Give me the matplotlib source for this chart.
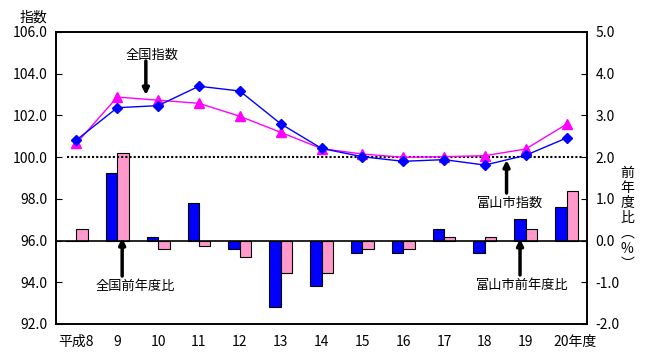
import matplotlib
matplotlib.use("Agg")
import matplotlib.pyplot as plt
import matplotlib.transforms as mtransforms

plt.rcParams['font.family'] = ['Noto Sans CJK JP', 'DejaVu Sans']

years = ["平成8", "9", "10", "11", "12", "13", "14", "15", "16", "17", "18", "19", "20年度"]
toyama_index = [100.82, 102.37, 102.47, 103.40, 103.17, 101.60, 100.42,
                100.02, 99.80, 99.88, 99.62, 100.09, 100.92]
national_index = [100.66, 102.88, 102.73, 102.58, 101.96, 101.19, 100.41,
                  100.15, 99.99, 100.02, 100.07, 100.39, 101.58]
toyama_yoy = [0.0, 1.61, 0.08, 0.89, -0.21, -1.60, -1.10,
              -0.30, -0.30, 0.27, -0.30, 0.51, 0.80]
national_yoy = [0.27, 2.10, -0.21, -0.12, -0.40, -0.78, -0.78,
                -0.21, -0.21, 0.08, 0.08, 0.27, 1.18]

fig = plt.figure(figsize=(6.48, 3.64), dpi=100)
ax = fig.add_axes([0.0864, 0.1099, 0.8195, 0.8022])
ax2 = ax.twinx()
ax.set_zorder(ax2.get_zorder() + 1)
ax.patch.set_visible(False)

x = list(range(len(years)))
w = 0.28

# bars on the right axis (year-over-year %)
ax2.bar([i - w / 2 for i in x], toyama_yoy, w, color="#0000FF", edgecolor="black", linewidth=0.8)
ax2.bar([i + w / 2 for i in x], national_yoy, w, color="#FF99CC", edgecolor="black", linewidth=0.8)
ax2.axhline(0, color="black", lw=1.2)
ax2.set_ylim(-2, 5)
ax2.set_yticks([-2, -1, 0, 1, 2, 3, 4, 5])
ax2.set_yticklabels(["%.1f" % v for v in [-2, -1, 0, 1, 2, 3, 4, 5]])

# index lines on the left axis
ax.plot(x, toyama_index, color="#0000FF", lw=1, marker="D", markersize=5.5, zorder=4)
ax.plot(x, national_index, color="#FF00FF", lw=1, marker="^", markersize=7, zorder=3)
ax.axhline(100, xmin=0.02, xmax=0.99, color="black", ls=(0, (1, 1)), lw=1.5, zorder=2)
ax.set_ylim(92, 106)
ax.set_yticks([92, 94, 96, 98, 100, 102, 104, 106])
ax.set_yticklabels(["%.1f" % v for v in [92, 94, 96, 98, 100, 102, 104, 106]])
ax.set_xlim(-0.5, len(years) - 0.5)
ax.set_xticks(x)
ax.set_xticklabels(years)

for a in (ax, ax2):
    a.tick_params(axis="y", direction="in", length=4, labelsize=10, pad=6)
    for s in a.spines.values():
        s.set_linewidth(1.2)
ax.tick_params(axis="x", length=0, labelsize=10, pad=8)
lbls = ax.get_xticklabels()
lbls[-1].set_transform(lbls[-1].get_transform() +
                       mtransforms.ScaledTranslation(8 / 100, 0, fig.dpi_scale_trans))

fig.text(0.051, 0.953, "指数", fontsize=10, ha="center", va="center")
fig.text(0.968, 0.40, "前\n年\n度\n比\n︵\n%\n︶", fontsize=10, ha="center", va="center",
         linespacing=1.1)

arrow = dict(arrowstyle="-|>", lw=2.5, color="black", mutation_scale=9, shrinkA=0, shrinkB=0)
ax.annotate("", xy=(1.70, 102.98), xytext=(1.70, 104.61), arrowprops=arrow)
ax.text(1.85, 104.9, "全国指数", fontsize=9.5, ha="center", va="center")
ax.annotate("", xy=(1.12, 96.12), xytext=(1.12, 94.30), arrowprops=arrow)
ax.text(1.43, 93.82, "全国前年度比", fontsize=9.5, ha="center", va="center")
ax.annotate("", xy=(10.53, 99.86), xytext=(10.53, 98.28), arrowprops=arrow)
ax.text(10.61, 97.80, "富山市指数", fontsize=9.5, ha="center", va="center")
ax.annotate("", xy=(10.86, 96.08), xytext=(10.86, 94.35), arrowprops=arrow)
ax.text(10.91, 93.87, "富山市前年度比", fontsize=9.5, ha="center", va="center")

fig.savefig("out.png", dpi=100)
